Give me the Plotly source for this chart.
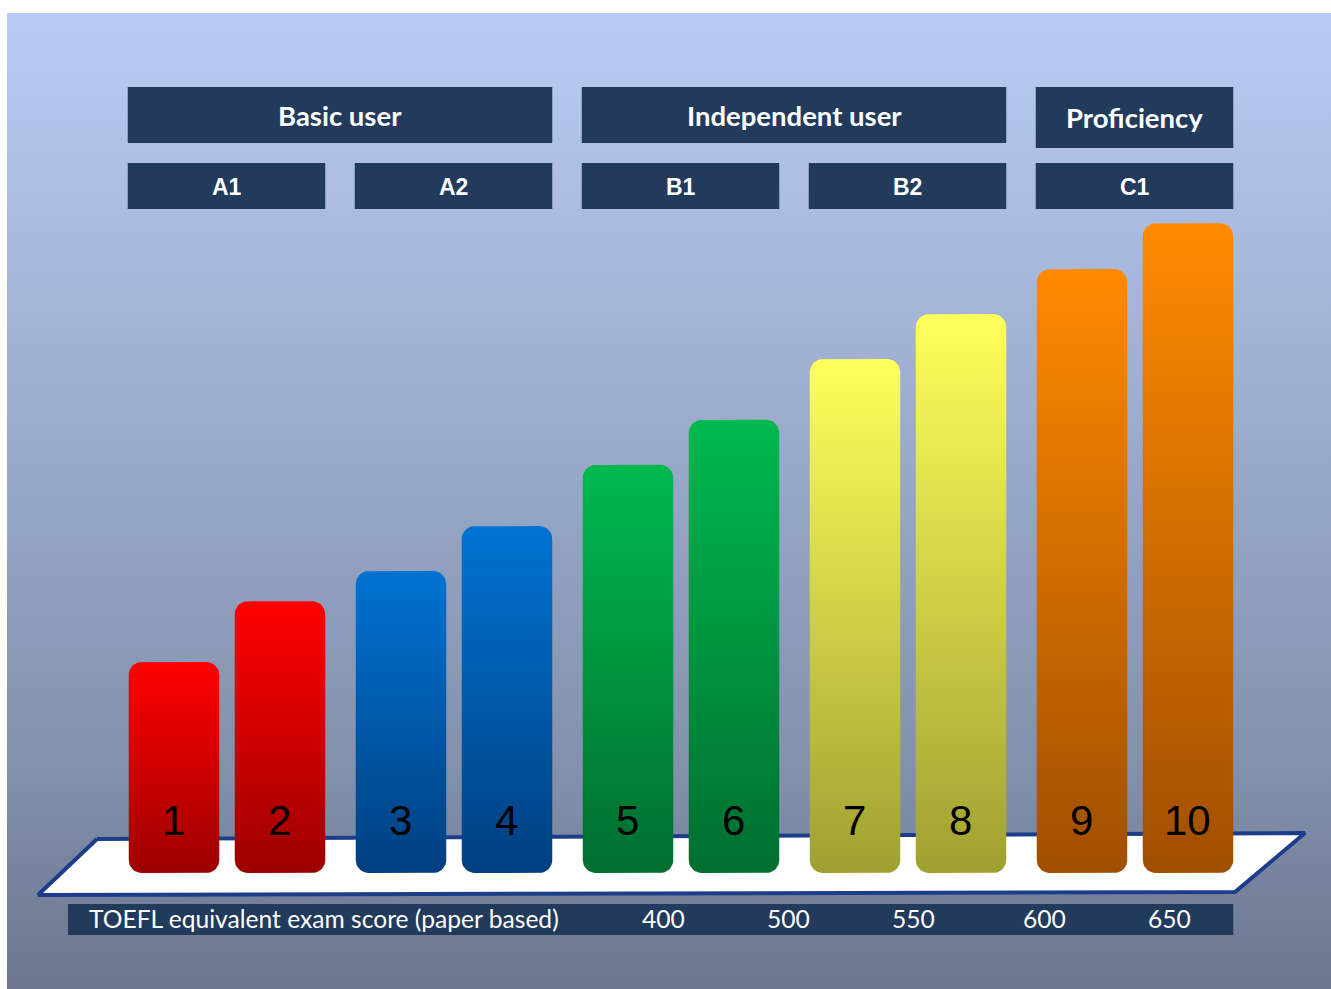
import numpy as np
import plotly.graph_objects as go

# ---------------- data ----------------
levels = ["1", "2", "3", "4", "5", "6", "7", "8", "9", "10"]
bar_heights = [4.69, 6.04, 6.71, 7.71, 9.07, 10.07, 11.42, 12.42, 13.42, 14.44]
cefr_levels = ["A1", "A2", "B1", "B2", "C1"]
user_groups = ["Basic user", "Independent user", "Proficiency"]
group_level_span = [2, 2, 1]          # number of CEFR levels each group covers
toefl_title = "TOEFL equivalent exam score (paper based)"
toefl_scores = ["400", "500", "550", "600", "650"]

# ---------------- layout / style ----------------
W, H = 1331, 989
BASE_PX = 873            # pixel row of bar base
PX_PER_UNIT = 45.0       # bar value scale
BAR_W = 90.5
FIRST_CX = 174.0
PITCH = 106.0
GROUP_GAP = 15.0
RADIUS = 13.0
score_x = [663, 788, 913, 1044, 1169]

bar_colors = [  # (bottom, top) for each CEFR level
    ("#9c0000", "#ff0000"),
    ("#003f80", "#0072d2"),
    ("#006e30", "#00b94f"),
    ("#a0a032", "#ffff5c"),
    ("#a04e00", "#ff8a00"),
]
DARK = "#223a5c"
WHITE = "#ffffff"

fig = go.Figure()

# background gradient panel (pixel axes x / y)
bx0, by0, bx1, by1 = 7, 13, W, H
fig.add_trace(go.Scatter(
    x=[bx0, bx1, bx1, bx0, bx0], y=[by0, by0, by1, by1, by0],
    mode="lines", line=dict(width=0), fill="toself",
    fillgradient=dict(type="vertical", start=by0, stop=by1,
                      colorscale=[[0, "#b8ccf2"], [0.3, "#a4b5d8"],
                                  [0.78, "#8290ab"], [1, "#6c7690"]]),
    hoverinfo="skip", showlegend=False, xaxis="x", yaxis="y"))

# platform
plat_x = [97, 1305, 1235, 38, 97]
plat_y = [839, 833, 892, 895, 839]
fig.add_trace(go.Scatter(
    x=plat_x, y=plat_y, mode="lines", fill="toself", fillcolor=WHITE,
    line=dict(color="#1d3d8a", width=4), hoverinfo="skip",
    showlegend=False, xaxis="x", yaxis="y"))

# bar centres
centers = [FIRST_CX + PITCH * k + GROUP_GAP * (k // 2) for k in range(len(levels))]

ry = RADIUS / PX_PER_UNIT
ang = np.linspace(0, np.pi / 2, 10)


def rounded_rect(cx, top):
    x0, x1 = cx - BAR_W / 2, cx + BAR_W / 2
    y0, y1 = 0.0, top
    pts_x, pts_y = [], []
    for a in ang:
        pts_x.append(x0 + RADIUS - RADIUS * np.cos(a)); pts_y.append(y0 + ry - ry * np.sin(a))
    for a in ang:
        pts_x.append(x1 - RADIUS + RADIUS * np.sin(a)); pts_y.append(y0 + ry - ry * np.cos(a))
    for a in ang:
        pts_x.append(x1 - RADIUS + RADIUS * np.cos(a)); pts_y.append(y1 - ry + ry * np.sin(a))
    for a in ang:
        pts_x.append(x0 + RADIUS - RADIUS * np.sin(a)); pts_y.append(y1 - ry + ry * np.cos(a))
    pts_x.append(pts_x[0]); pts_y.append(pts_y[0])
    return pts_x, pts_y


for k, (lab, h) in enumerate(zip(levels, bar_heights)):
    bot, top = bar_colors[k // 2]
    xs, ys = rounded_rect(centers[k], h)
    fig.add_trace(go.Scatter(
        x=xs, y=ys, mode="lines", line=dict(width=0), fill="toself",
        fillgradient=dict(type="vertical", start=0, stop=h,
                          colorscale=[[0, bot], [1, top]]),
        name=lab, hoverinfo="skip", showlegend=False,
        xaxis="x", yaxis="y2"))

annotations = []
shapes = []

# bar number labels
for k, lab in enumerate(levels):
    annotations.append(dict(x=centers[k] - 1, y=820, xref="x", yref="y", text=lab,
                            showarrow=False, xanchor="center", yanchor="middle",
                            font=dict(family="Liberation Sans, Arial", size=42, color="black")))

# CEFR level boxes
lvl_left = []
lvl_right = []
for i, name in enumerate(cefr_levels):
    l = centers[2 * i] - BAR_W / 2 - 1
    r = centers[2 * i + 1] + BAR_W / 2
    lvl_left.append(l); lvl_right.append(r)
    shapes.append(dict(type="rect", xref="x", yref="y", x0=l, x1=r, y0=163, y1=209,
                       fillcolor=DARK, line=dict(width=0), layer="above"))
    annotations.append(dict(x=(l + r) / 2, y=187, xref="x", yref="y", text=f"<b>{name}</b>",
                            showarrow=False, xanchor="center", yanchor="middle",
                            font=dict(family="Liberation Sans, Arial", size=23, color=WHITE)))

# user group boxes
idx = 0
for g, (name, span) in enumerate(zip(user_groups, group_level_span)):
    l = lvl_left[idx]
    r = lvl_right[idx + span - 1]
    idx += span
    bottom = 148 if span == 1 else 143
    shapes.append(dict(type="rect", xref="x", yref="y", x0=l, x1=r, y0=87, y1=bottom,
                       fillcolor=DARK, line=dict(width=0), layer="above"))
    annotations.append(dict(x=(l + r) / 2, y=(87 + bottom) / 2, xref="x", yref="y",
                            text=f"<b>{name}</b>", showarrow=False,
                            xanchor="center", yanchor="middle",
                            font=dict(family="Lato", size=27.5, color=WHITE)))

# TOEFL strip
shapes.append(dict(type="rect", xref="x", yref="y", x0=68, x1=lvl_right[-1], y0=904, y1=935,
                   fillcolor=DARK, line=dict(width=0), layer="above"))
annotations.append(dict(x=87, y=918.5, xref="x", yref="y", text=toefl_title, showarrow=False,
                        xanchor="left", yanchor="middle",
                        font=dict(family="Lato", size=24.6, color=WHITE)))
for sx, s in zip(score_x, toefl_scores):
    annotations.append(dict(x=sx, y=918.5, xref="x", yref="y", text=s, showarrow=False,
                            xanchor="center", yanchor="middle",
                            font=dict(family="Lato", size=24.6, color=WHITE)))

y2_lo = -(H - BASE_PX) / PX_PER_UNIT
y2_hi = y2_lo + H / PX_PER_UNIT

fig.update_layout(
    width=W, height=H, autosize=False,
    margin=dict(l=0, r=0, t=0, b=0, pad=0),
    paper_bgcolor="white", plot_bgcolor="rgba(0,0,0,0)",
    xaxis=dict(range=[0, W], domain=[0, 1], visible=False, fixedrange=True),
    yaxis=dict(range=[H, 0], domain=[0, 1], visible=False, fixedrange=True),
    yaxis2=dict(range=[y2_lo, y2_hi], domain=[0, 1], overlaying="y", visible=False,
                fixedrange=True),
    shapes=shapes, annotations=annotations, showlegend=False,
)

fig.write_html("out.html", config={"displayModeBar": False},
               post_script="document.body.style.margin='0';document.body.style.overflow='hidden';")
